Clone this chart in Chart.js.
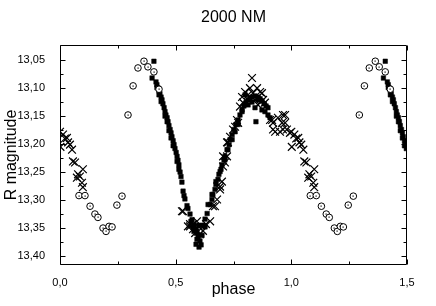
<!DOCTYPE html>
<html><head><meta charset="utf-8">
<script src="https://cdn.jsdelivr.net/npm/chart.js@4/dist/chart.umd.min.js"></script>
<style>html,body{margin:0;padding:0;background:#fff;}#wrap{width:436px;height:306px;}</style>
</head><body><div id="wrap"><canvas id="c" width="436" height="306"></canvas></div>
<script>
const titleText = '2000 NM';
const xTitle = 'phase';
const yTitle = 'R magnitude';
const xTickValues = [0, 0.5, 1.0, 1.5];
const xTickLabels = ['0,0', '0,5', '1,0', '1,5'];
const yTickValues = [13.05, 13.10, 13.15, 13.20, 13.25, 13.30, 13.35, 13.40];
const yTickLabels = ['13,05', '13,10', '13,15', '13,20', '13,25', '13,30', '13,35', '13,40'];

// open circles (phase, R mag)
const circlePhase = [0.082,0.108,0.130,0.151,0.164,0.186,0.199,0.212,0.225,0.246,0.268,0.294,0.316,0.337,0.363,0.380,0.406,0.428];
const circleMag   = [13.292,13.292,13.311,13.325,13.331,13.350,13.356,13.347,13.348,13.309,13.293,13.148,13.096,13.064,13.052,13.062,13.071,13.102];

// filled squares
const squarePhase = [0.398,0.406,0.415,0.419,0.419,0.424,0.428,0.428,0.432,0.437,0.437,0.441,0.445,0.450,0.454,0.454,0.458,0.463,0.463,0.467,0.471,0.471,0.476,0.480,0.480,0.484,0.489,0.489,0.493,0.497,0.502,0.506,0.506,0.510,0.514,0.514,0.519,0.523,0.527,0.532,0.536,0.540,0.549,0.553,0.562,0.571,0.579,0.588,0.592,0.597,0.605,0.610,
  0.566,0.579,0.592,0.601,0.614,0.627,0.588,0.601,0.575,0.618,
  0.627,0.636,0.649,0.657,0.661,0.670,0.674,0.683,0.687,0.696,0.700,0.709,0.713,0.722,0.731,0.735,0.744,0.752,0.761,0.770,0.778,0.787,0.795,0.804,0.813,0.821,0.830,0.843,0.856,0.865,0.873,0.882,0.891,0.899,0.847,
  0.800,0.813,0.830,0.843,0.856,0.873,0.886,0.899,0.908,0.787,0.770,0.757,0.744,0.726,0.713,0.692,0.674,0.657,0.640];
const squareMag = [13.082,13.052,13.089,13.094,13.099,13.100,13.105,13.112,13.110,13.116,13.124,13.121,13.128,13.135,13.142,13.150,13.148,13.153,13.160,13.160,13.167,13.176,13.174,13.180,13.189,13.187,13.194,13.203,13.201,13.208,13.215,13.222,13.231,13.229,13.237,13.245,13.250,13.258,13.268,13.284,13.292,13.298,13.310,13.315,13.325,13.335,13.345,13.352,13.359,13.366,13.373,13.380,
  13.338,13.356,13.370,13.345,13.363,13.348,13.379,13.384,13.348,13.345,
  13.334,13.324,13.308,13.299,13.290,13.281,13.272,13.263,13.254,13.245,13.237,13.228,13.222,13.210,13.201,13.192,13.183,13.174,13.165,13.157,13.148,13.139,13.132,13.126,13.121,13.118,13.116,13.114,13.116,13.119,13.123,13.128,13.132,13.135,13.160,
  13.112,13.130,13.125,13.135,13.121,13.139,13.142,13.148,13.153,13.142,13.165,13.178,13.192,13.210,13.228,13.249,13.267,13.290,13.308];

// crosses
const crossPhase = [0.000,0.013,0.021,0.030,0.035,0.043,0.052,0.002,0.056,0.065,0.078,0.086,0.073,0.099,0.095,0.099,
  0.527,0.532,0.553,0.562,0.575,0.592,0.597,0.605,0.649,0.631,0.562,0.575,0.584,0.601,0.618,
  0.661,0.670,0.679,0.692,0.692,0.700,0.713,0.705,0.722,0.722,0.705,0.726,0.735,0.748,0.757,0.765,0.770,0.778,0.787,0.800,0.821,0.830,0.834,0.852,0.873,0.886,0.813,0.843,0.865,0.791,0.856,
  0.878,0.908,0.921,0.942,0.960,0.973,0.921,0.951,0.981,0.964,0.994,0.930,0.917,0.964,0.973];
const crossMag = [13.178,13.183,13.190,13.189,13.197,13.201,13.210,13.205,13.231,13.233,13.254,13.258,13.260,13.245,13.269,13.277,
  13.320,13.320,13.347,13.347,13.343,13.338,13.356,13.361,13.338,13.343,13.343,13.352,13.359,13.348,13.355,
  13.311,13.311,13.299,13.281,13.276,13.267,13.233,13.222,13.222,13.197,13.240,13.197,13.187,13.174,13.169,13.157,13.162,13.133,13.116,13.107,13.100,13.082,13.109,13.100,13.109,13.126,13.112,13.121,13.107,13.126,13.130,
  13.121,13.157,13.162,13.153,13.162,13.148,13.174,13.178,13.174,13.174,13.180,13.178,13.157,13.148,13.162];

// phase-folded light curve: points with phase < 0.5 are shown again one cycle later
function fold(ph, mag) {
  const pts = [];
  ph.forEach((p, i) => {
    pts.push({x: p, y: mag[i]});
    if (p < 0.5) pts.push({x: p + 1, y: mag[i]});
  });
  return pts;
}

const FONT = "'Liberation Sans', Arial, sans-serif";

// centre dot of the open-circle markers, placed at the library's element positions
const dotPlugin = {
  id: 'dots',
  afterDatasetsDraw(chart) {
    const meta = chart.getDatasetMeta(0);
    const ctx = chart.ctx;
    ctx.save();
    ctx.fillStyle = '#000';
    meta.data.forEach(el => {
      ctx.fillRect(Math.round(el.x) - 0.5, Math.round(el.y) - 0.5, 1.2, 1.2);
    });
    ctx.restore();
  }
};

const framePlugin = {
  id: 'frame',
  afterDatasetsDraw(chart) {
    const {ctx, chartArea: a, scales: {x, y}} = chart;
    ctx.save();
    ctx.strokeStyle = '#000';
    ctx.lineWidth = 1;
    const L = Math.round(a.left) + 0.5, R = Math.round(a.right) - 0.5;
    const T = Math.round(a.top) + 0.5, B = Math.round(a.bottom) - 0.5;
    ctx.beginPath();
    ctx.rect(L, T, R - L, B - T);
    const xs = [];
    xTickValues.forEach((v, i) => {
      xs.push([v, 5]);
      if (i < xTickValues.length - 1) xs.push([(v + xTickValues[i + 1]) / 2, 3]);
    });
    xs.forEach(([v, len]) => {
      const px = Math.round(x.getPixelForValue(v)) + 0.5;
      ctx.moveTo(px, B); ctx.lineTo(px, B - len);
      ctx.moveTo(px, T); ctx.lineTo(px, T + len);
    });
    const ys = [];
    yTickValues.forEach((v, i) => {
      ys.push([v, 5]);
      if (i < yTickValues.length - 1) ys.push([(v + yTickValues[i + 1]) / 2, 3]);
    });
    ys.forEach(([v, len]) => {
      const py = Math.round(y.getPixelForValue(v)) + 0.5;
      ctx.moveTo(L, py); ctx.lineTo(L + len, py);
      ctx.moveTo(R, py); ctx.lineTo(R - len, py);
    });
    ctx.stroke();
    ctx.restore();
  }
};

new Chart(document.getElementById('c'), {
  type: 'scatter',
  data: {
    datasets: [
      {label: 'circles', data: fold(circlePhase, circleMag), pointStyle: 'circle', pointRadius: 3.3, pointHoverRadius: 3.3,
        backgroundColor: '#fff', borderColor: '#000', borderWidth: 1},
      {label: 'crosses', data: fold(crossPhase, crossMag), pointStyle: 'crossRot', pointRadius: 5.5, pointHoverRadius: 5.5,
        borderColor: '#000', backgroundColor: '#000', borderWidth: 1.2},
      {label: 'squares', data: fold(squarePhase, squareMag), pointStyle: 'rect', pointRadius: 3.2, pointHoverRadius: 3.2,
        borderColor: '#000', backgroundColor: '#000', borderWidth: 0.5}
    ]
  },
  options: {
    responsive: false,
    animation: false,
    devicePixelRatio: 1,
    layout: {padding: {left: 0, right: 29, top: 0, bottom: 0}},
    plugins: {
      legend: {display: false},
      tooltip: {enabled: false},
      title: {display: true, text: titleText, fullSize: false, color: '#000',
        font: {family: FONT, size: 16, weight: 'normal'}, padding: {top: 8, bottom: 17.8}}
    },
    scales: {
      x: {
        type: 'linear', min: 0, max: 1.5,
        grid: {display: false}, border: {display: false},
        afterBuildTicks: s => { s.ticks = xTickValues.map(v => ({value: v})); },
        afterFit: s => { s.height = 41; },
        ticks: {callback: v => xTickLabels[xTickValues.indexOf(v)], color: '#000', autoSkip: false, maxRotation: 0,
          font: {family: FONT, size: 11}, padding: 3},
        title: {display: true, text: xTitle, color: '#000', font: {family: FONT, size: 16}, padding: {top: 0, bottom: 7}}
      },
      y: {
        type: 'linear', reverse: true, min: 13.023, max: 13.416,
        grid: {display: false}, border: {display: false},
        afterBuildTicks: s => { s.ticks = yTickValues.map(v => ({value: v})); },
        afterFit: s => { s.width = 60; },
        ticks: {callback: v => yTickLabels[yTickValues.indexOf(v)], color: '#000', autoSkip: false,
          font: {family: FONT, size: 11}, padding: 7},
        title: {display: true, text: yTitle, color: '#000', font: {family: FONT, size: 16}, padding: {top: 2, bottom: 0}}
      }
    }
  },
  plugins: [dotPlugin, framePlugin]
});
</script>
</body></html>
